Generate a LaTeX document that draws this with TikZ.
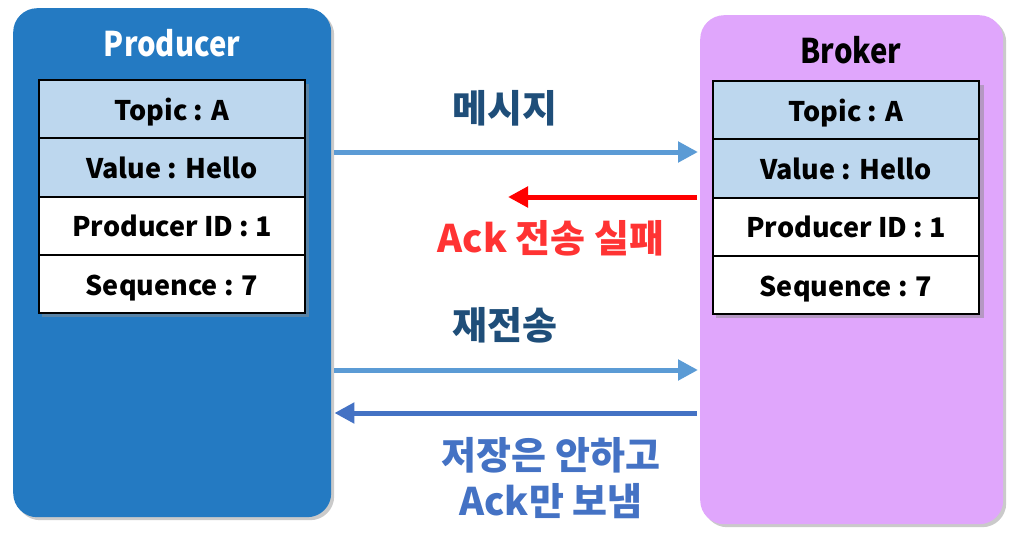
\documentclass[tikz,border=0pt]{standalone}
\usepackage{fontspec}
\usepackage{graphicx}
\setmainfont{Noto Sans CJK KR}
\usetikzlibrary{shadows,arrows.meta}
\definecolor{prodblue}{RGB}{36,122,194}
\definecolor{brokerpink}{RGB}{224,166,252}
\definecolor{rowblue}{RGB}{189,215,238}
\definecolor{arrlight}{RGB}{91,155,213}
\definecolor{arrdark}{RGB}{68,114,196}
\definecolor{lbldark}{RGB}{31,78,121}
\definecolor{lblred}{RGB}{255,51,51}
\tikzset{
  panel/.style={rounded corners=24pt, minimum width=318pt, minimum height=509pt, inner sep=0pt,
    drop shadow={shadow xshift=3pt, shadow yshift=-3pt, opacity=0.35, fill=black!60}},
  row/.style={draw=black, line width=1.8pt, minimum width=266pt, minimum height=58.3pt, inner sep=0pt, outer sep=0pt,
    text height=22pt, text depth=0pt,
    font=\fontsize{27}{30}\selectfont\bfseries},
  tblshadow/.style={fill=black!45, opacity=0.5},
  title/.style={font=\fontsize{34}{38}\selectfont\bfseries, inner sep=0pt},
  lbl/.style={font=\fontsize{38}{46}\selectfont\bfseries, inner sep=0pt, align=center},
  arr/.style={line width=5pt, -{Triangle[length=20pt,width=20pt]}},
}
\begin{document}
\begin{tikzpicture}[x=1pt,y=-1pt]
\useasboundingbox (0,0) rectangle (1017,538);
% panels
\node[panel, fill=prodblue, anchor=north west] (prod) at (13,8) {};
\node[panel, fill=brokerpink, anchor=north west, minimum width=303pt] (brok) at (700,15) {};
\node[title, text=white] (ptitle) at (172,43) {\scalebox{0.86}[1]{Producer}};
\node[title, text=black] (btitle) at (851,50) {\scalebox{0.86}[1]{Broker}};
% table shadows
\fill[tblshadow] (42,84) rectangle (309,317);
\fill[tblshadow] (716,85) rectangle (984,318);
% producer table
\node[row, fill=rowblue, anchor=north west] (p1) at (39,80) {Topic : A};
\node[row, fill=rowblue, anchor=north] (p2) at (p1.south) {Value : Hello};
\node[row, fill=white, anchor=north] (p3) at (p2.south) {Producer ID : 1};
\node[row, fill=white, anchor=north] (p4) at (p3.south) {Sequence : 7};
% broker table
\node[row, fill=rowblue, anchor=north west] (b1) at (713,81) {Topic : A};
\node[row, fill=rowblue, anchor=north] (b2) at (b1.south) {Value : Hello};
\node[row, fill=white, anchor=north] (b3) at (b2.south) {Producer ID : 1};
\node[row, fill=white, anchor=north] (b4) at (b3.south) {Sequence : 7};
% labels
\node[lbl, text=lbldark] (l1) at (505,108) {메시지};
\node[lbl, text=lblred] (l2) at (551,238) {Ack 전송 실패};
\node[lbl, text=lbldark] (l3) at (505,325) {재전송};
\node[lbl, text=arrdark] (l4) at (551,478) {저장은 안하고\\Ack만 보냄};
% arrows
\coordinate (redend) at (508,197);
\draw[arr, draw=arrlight, fill=arrlight] (prod.east |- 0,152) ++(3,0) -- ([xshift=-2pt]brok.west |- 0,152);
\draw[arr, draw=red, fill=red] ([xshift=-3pt]brok.west |- 0,197) -- (redend);
\draw[arr, draw=arrlight, fill=arrlight] (prod.east |- 0,370) ++(3,0) -- ([xshift=-2pt]brok.west |- 0,370);
\draw[arr, draw=arrdark, fill=arrdark] ([xshift=-3pt]brok.west |- 0,413) -- ([xshift=3pt]prod.east |- 0,413);
\end{tikzpicture}
\end{document}
